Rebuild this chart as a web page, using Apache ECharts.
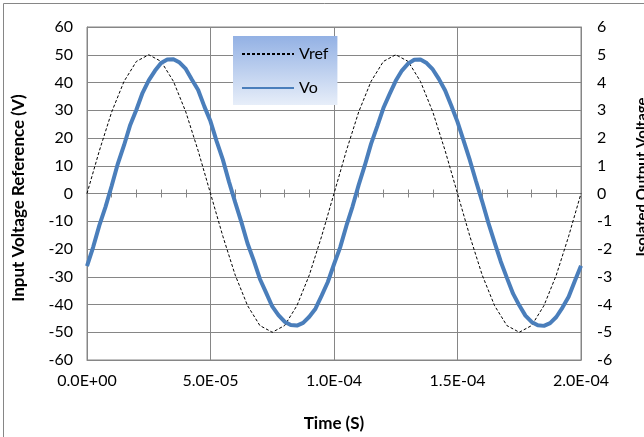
<!DOCTYPE html>
<html>
<head>
<meta charset="utf-8">
<script src="https://cdn.jsdelivr.net/npm/echarts@6/dist/echarts.min.js"></script>
<style>
html,body{margin:0;padding:0;background:#fff;}
#chart{width:644px;height:437px;}
</style>
</head>
<body>
<div id="chart"></div>
<script>
// ---- Data ----
const timeVref = [0, 5e-6, 1e-5, 1.5e-5, 2e-5, 2.5e-5, 3e-5, 3.5e-5, 4e-5, 4.5e-5,
  5e-5, 5.5e-5, 6e-5, 6.5e-5, 7e-5, 7.5e-5, 8e-5, 8.5e-5, 9e-5, 9.5e-5,
  1e-4, 1.05e-4, 1.1e-4, 1.15e-4, 1.2e-4, 1.25e-4, 1.3e-4, 1.35e-4, 1.4e-4, 1.45e-4,
  1.5e-4, 1.55e-4, 1.6e-4, 1.65e-4, 1.7e-4, 1.75e-4, 1.8e-4, 1.85e-4, 1.9e-4, 1.95e-4, 2e-4];
const vref = [0, 15.4, 29.4, 40.4, 47.6, 50, 47.6, 40.4, 29.4, 15.4,
  0, -15.4, -29.4, -40.4, -47.6, -50, -47.6, -40.4, -29.4, -15.4,
  0, 15.4, 29.4, 40.4, 47.6, 50, 47.6, 40.4, 29.4, 15.4,
  0, -15.4, -29.4, -40.4, -47.6, -50, -47.6, -40.4, -29.4, -15.4, 0];
const timeVo = [0, 2.5e-6, 5e-6, 7.5e-6, 1e-5, 1.25e-5, 1.5e-5, 1.75e-5, 2e-5, 2.25e-5,
  2.5e-5, 2.75e-5, 3e-5, 3.25e-5, 3.5e-5, 3.75e-5, 4e-5, 4.25e-5, 4.5e-5, 4.75e-5,
  5e-5, 5.25e-5, 5.5e-5, 5.75e-5, 6e-5, 6.25e-5, 6.5e-5, 6.75e-5, 7e-5, 7.25e-5,
  7.5e-5, 7.75e-5, 8e-5, 8.25e-5, 8.5e-5, 8.75e-5, 9e-5, 9.25e-5, 9.5e-5, 9.75e-5,
  1e-4, 1.025e-4, 1.05e-4, 1.075e-4, 1.1e-4, 1.125e-4, 1.15e-4, 1.175e-4, 1.2e-4, 1.225e-4,
  1.25e-4, 1.275e-4, 1.3e-4, 1.325e-4, 1.35e-4, 1.375e-4, 1.4e-4, 1.425e-4, 1.45e-4, 1.475e-4,
  1.5e-4, 1.525e-4, 1.55e-4, 1.575e-4, 1.6e-4, 1.625e-4, 1.65e-4, 1.675e-4, 1.7e-4, 1.725e-4,
  1.75e-4, 1.775e-4, 1.8e-4, 1.825e-4, 1.85e-4, 1.875e-4, 1.9e-4, 1.925e-4, 1.95e-4, 1.975e-4, 2e-4];
const vo = [-2.62, -1.93, -1.15, -0.48, 0.28, 1.08, 1.74, 2.47, 3.02, 3.63,
  4.08, 4.42, 4.70, 4.83, 4.84, 4.72, 4.49, 4.10, 3.73, 3.14,
  2.60, 1.88, 1.22, 0.42, -0.32, -1.03, -1.80, -2.41, -3.08, -3.57,
  -4.07, -4.38, -4.62, -4.74, -4.76, -4.66, -4.44, -4.15, -3.68, -3.19,
  -2.55, -1.94, -1.17, -0.47, 0.31, 1.02, 1.79, 2.42, 3.08, 3.58,
  4.06, 4.43, 4.68, 4.82, 4.83, 4.70, 4.47, 4.12, 3.71, 3.16,
  2.58, 1.90, 1.20, 0.44, -0.29, -1.06, -1.76, -2.45, -3.04, -3.61,
  -4.03, -4.40, -4.63, -4.75, -4.77, -4.67, -4.45, -4.11, -3.72, -3.15, -2.60];
const seriesNames = ['Vref', 'Vo'];
const xTitle = 'Time (S)';
const yLeftTitle = 'Input Voltage Reference (V)';
const yRightTitle = 'Isolated Output Voltage';

// ---- Chart ----
const FONT = 'Lato, "Liberation Sans", sans-serif';
const GRAY = '#868686';
function sci(v) {
  let s = Number(v).toExponential(1);
  const m = s.match(/^(-?[\d.]+)e([+-])(\d+)$/);
  if (!m) return s;
  return m[1] + 'E' + m[2] + (m[3].length < 2 ? '0' + m[3] : m[3]);
}
const chart = echarts.init(document.getElementById('chart'));
const pairs = (xs, ys) => xs.map((x, i) => [x, ys[i]]);
chart.setOption({
  animation: false,
  backgroundColor: '#fff',
  textStyle: { fontFamily: FONT },
  grid: { left: 87, top: 27, width: 494, height: 336, show: true, borderColor: GRAY, borderWidth: 1, containLabel: false },
  legend: {
    orient: 'vertical', left: 233, top: 36,
    padding: [9, 9, 8, 8], itemGap: 16, itemWidth: 52, itemHeight: 14,
    itemStyle: { opacity: 0 },
    textStyle: { fontFamily: FONT, fontSize: 16, color: '#000', lineHeight: 18 },
    backgroundColor: new echarts.graphic.LinearGradient(0, 0, 0, 1, [
      { offset: 0, color: '#93b1e4' }, { offset: 1, color: '#e7eef9' }
    ]),
    data: seriesNames
  },
  xAxis: [
    {
      type: 'value', min: 0, max: 2e-4, interval: 5e-5, position: 'bottom',
      axisLine: { show: true, onZero: false, lineStyle: { color: GRAY } },
      axisTick: { show: false },
      splitLine: { show: true, lineStyle: { color: GRAY, width: 1 } },
      axisLabel: { formatter: sci, fontSize: 16, color: '#000', margin: 13, fontFamily: FONT },
      name: xTitle, nameLocation: 'middle', nameGap: 55,
      nameTextStyle: { fontSize: 17, fontWeight: 'bold', color: '#000', fontFamily: FONT }
    },
    {
      type: 'value', min: 0, max: 2e-4, interval: 1e-5, position: 'bottom',
      axisLine: { show: true, onZero: true, onZeroAxisIndex: 0, lineStyle: { color: GRAY } },
      axisTick: { show: true, inside: true, length: 4, lineStyle: { color: GRAY } },
      axisLabel: { show: false }, splitLine: { show: false }
    },
    {
      type: 'value', min: 0, max: 2e-4, interval: 1e-5, position: 'bottom',
      axisLine: { show: false, onZero: true, onZeroAxisIndex: 0 },
      axisTick: { show: true, inside: false, length: 4, lineStyle: { color: GRAY } },
      axisLabel: { show: false }, splitLine: { show: false }
    }
  ],
  yAxis: [
    {
      type: 'value', min: -60, max: 60, interval: 10, position: 'left',
      axisLine: { show: true, onZero: false, lineStyle: { color: GRAY } },
      axisTick: { show: false },
      splitLine: { show: true, lineStyle: { color: GRAY, width: 1 } },
      axisLabel: { fontSize: 16, color: '#000', margin: 14, fontFamily: FONT }
    },
    {
      type: 'value', min: -6, max: 6, interval: 1, position: 'right',
      axisLine: { show: true, onZero: false, lineStyle: { color: GRAY } },
      axisTick: { show: false },
      splitLine: { show: false },
      axisLabel: { fontSize: 16, color: '#000', margin: 16, fontFamily: FONT }
    }
  ],
  graphic: [
    { type: 'rect', silent: true, z: -10, shape: { x: 3.5, y: 3.5, width: 700, height: 500 },
      style: { fill: 'none', stroke: GRAY, lineWidth: 1 } },
    { type: 'text', x: 19, y: 198, rotation: Math.PI / 2, silent: true,
      style: { text: yLeftTitle, fontSize: 17, fontWeight: 'bold', fontFamily: FONT, fill: '#000', align: 'center', verticalAlign: 'middle' } },
    { type: 'text', x: 642, y: 177, rotation: Math.PI / 2, silent: true,
      style: { text: yRightTitle, fontSize: 15, fontWeight: 'bold', fontFamily: FONT, fill: '#000', align: 'center', verticalAlign: 'middle' } }
  ],
  series: [
    {
      name: seriesNames[0], type: 'line', xAxisIndex: 0, yAxisIndex: 0,
      data: pairs(timeVref, vref), symbol: 'none', smooth: false,
      lineStyle: { color: '#000', width: 1, type: [3, 2] }, itemStyle: { color: '#000' }, z: 3
    },
    {
      name: seriesNames[1], type: 'line', xAxisIndex: 0, yAxisIndex: 1,
      data: pairs(timeVo, vo), symbol: 'none', smooth: false,
      lineStyle: { color: '#4a7ebb', width: 4 }, itemStyle: { color: '#4a7ebb' }, z: 4
    }
  ]
});
</script>
</body>
</html>
